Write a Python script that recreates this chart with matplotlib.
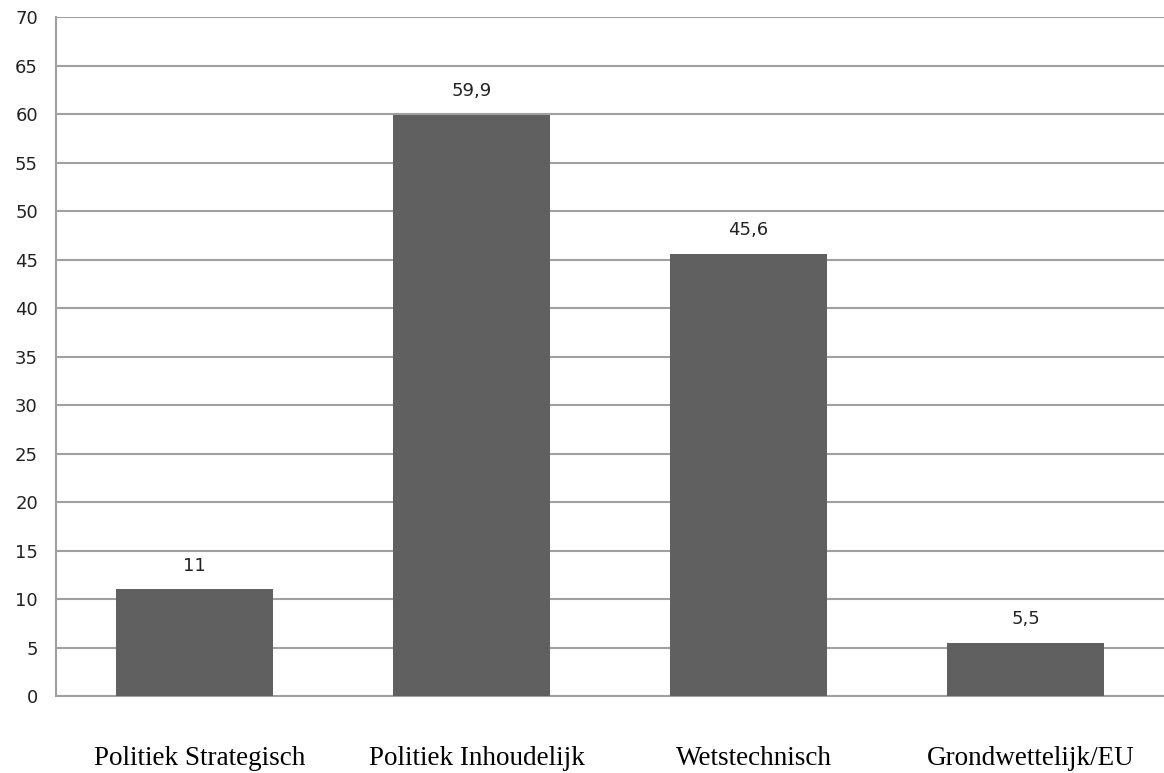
import matplotlib
matplotlib.use("Agg")
import matplotlib.pyplot as plt
import numpy as np

categorieen = ["Politiek Strategisch", "Politiek Inhoudelijk", "Wetstechnisch", "Grondwettelijk/EU"]
waarden = [11, 59.9, 45.6, 5.5]
labels = ["11", "59,9", "45,6", "5,5"]

fig = plt.figure(figsize=(11.64, 7.73), dpi=100)
ax = fig.add_axes([0.0481, 0.0996, 0.9519, 0.8784])

x = np.arange(len(categorieen))
ax.bar(x, waarden, width=0.57, color="#606060", zorder=3)

for xi, v, t in zip(x, waarden, labels):
    ax.text(xi, v + 1.5, t, ha="center", va="bottom", fontsize=13,
            family="DejaVu Sans", color="#222222")

ax.set_xlim(-0.5, len(categorieen) - 0.5)
ax.set_ylim(0, 70)
ax.set_yticks(range(0, 71, 5))
ax.yaxis.grid(True, color="#a0a0a0", linewidth=1.5, zorder=0)
ax.set_xticks(x + 0.02)
ax.set_xticklabels(categorieen, family="Liberation Serif", fontsize=19.5)
ax.tick_params(axis="x", length=0, pad=36)
ax.tick_params(axis="y", length=0, pad=13, labelsize=13)
for lbl in ax.get_yticklabels():
    lbl.set_color("#222222")

for s in ["top", "right"]:
    ax.spines[s].set_visible(False)
ax.spines["left"].set_color("#a0a0a0")
ax.spines["bottom"].set_color("#a0a0a0")
ax.spines["left"].set_linewidth(1.5)
ax.spines["bottom"].set_linewidth(1.5)

fig.savefig("out.png", dpi=100)
